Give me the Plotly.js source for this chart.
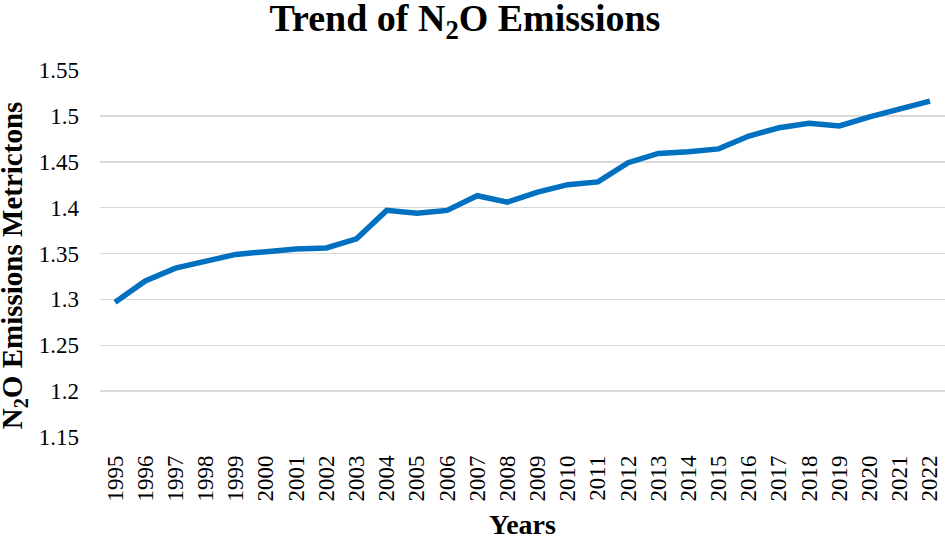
<!DOCTYPE html>
<html>
<head>
<meta charset="utf-8">
<script src="https://cdn.plot.ly/plotly-3.0.1.min.js"></script>
<style>html,body{margin:0;padding:0;background:#fff}#chart{width:945px;height:540px}</style>
</head>
<body>
<div id="chart"></div>
<script>
var years = ["1995","1996","1997","1998","1999","2000","2001","2002","2003","2004","2005","2006","2007","2008","2009","2010","2011","2012","2013","2014","2015","2016","2017","2018","2019","2020","2021","2022"];
var emissions = [1.297,1.320,1.334,1.342,1.349,1.352,1.355,1.356,1.366,1.397,1.394,1.397,1.413,1.406,1.417,1.425,1.428,1.449,1.459,1.461,1.464,1.478,1.487,1.492,1.489,1.499,1.508,1.516];
var yTicks = [1.15,1.2,1.25,1.3,1.35,1.4,1.45,1.5,1.55];
var yTickText = ["1.15","1.2","1.25","1.3","1.35","1.4","1.45","1.5","1.55"];

var font = "Liberation Serif, Times New Roman, serif";
Plotly.newPlot('chart', [{
  x: years, y: emissions, type: 'scatter', mode: 'lines',
  line: {color: '#0070C0', width: 5.5}
}], {
  width: 945, height: 540,
  margin: {l: 100, r: 0, t: 70, b: 103},
  paper_bgcolor: '#fff', plot_bgcolor: '#fff',
  showlegend: false,
  title: {text: '<b>Trend of N<sub>2</sub>O Emissions</b>', font: {family: font, size: 38, color: '#000'}, x: 0.492, xanchor: 'center', y: 0.968, yanchor: 'middle'},
  xaxis: {
    type: 'category', range: [-0.5, 27.5], tickangle: -90,
    tickfont: {family: font, size: 23, color: '#000'},
    showgrid: false, showline: false, ticks: '', ticklen: 0, ticklabelstandoff: 13,
    automargin: false,
    title: {text: '<b>Years</b>', font: {family: font, size: 28, color: '#000'}, standoff: 18}
  },
  yaxis: {
    range: [1.15, 1.55], tickvals: yTicks, ticktext: yTickText,
    tickfont: {family: font, size: 23, color: '#000'},
    showgrid: true, gridcolor: '#d9d9d9', gridwidth: 1.5,
    zeroline: false, showline: false, ticks: '', ticklabelstandoff: 20,
    automargin: false
  },
  annotations: [{
    text: '<b>N<sub>2</sub>O Emissions Metrictons</b>', textangle: -90,
    xref: 'paper', yref: 'paper', x: -0.1015, y: 0.4687, xanchor: 'center', yanchor: 'middle',
    showarrow: false, font: {family: font, size: 29, color: '#000'}
  }]
}, {displayModeBar: false, staticPlot: true});
</script>
</body>
</html>
